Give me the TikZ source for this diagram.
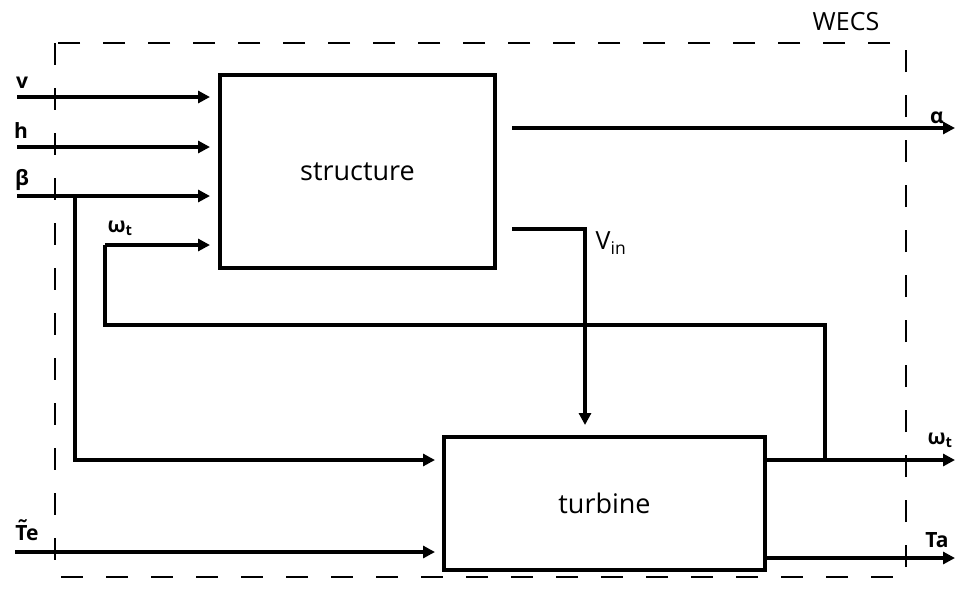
\documentclass[tikz,border=0pt]{standalone}
\usepackage{fontspec}
\setmainfont{Open Sans}
\usetikzlibrary{arrows.meta}
\begin{document}
\begin{tikzpicture}[x=1pt,y=-1pt,
  blockbox/.style={draw,line width=4.5pt,inner sep=0pt,font=\fontsize{27}{32}\selectfont},
  sig/.style={line width=4pt,-{Triangle[length=12pt,width=12pt]}},
  wire/.style={line width=4pt},
  lbl/.style={inner sep=0pt,font=\bfseries\fontsize{21}{25}\selectfont},
  frame/.style={line width=1.4pt,dash pattern=on 22pt off 23pt}]
\useasboundingbox (0,0) rectangle (955,606);
\draw[frame] (55,43) rectangle (906,577);
\node[inner sep=0pt,font=\fontsize{25}{30}\selectfont] (wecs) at (846,22) {WECS};
\node[blockbox,minimum width=275pt,minimum height=193pt] (structure) at (357.5,171.5) {structure};
\node[blockbox,minimum width=321pt,minimum height=133pt] (turbine) at (604.5,503.5) {turbine};
% inputs
\coordinate (vin) at (17,97);
\coordinate (hin) at (17,147);
\coordinate (bin) at (17,196);
\coordinate (win) at (105,245);
\coordinate (tein) at (15,552);
\coordinate (bsplit) at (75,196);
\coordinate (wsplit) at (825,460);
\coordinate (aout) at (955,128);
\coordinate (wout) at (955,460);
\coordinate (taout) at (955,558);
\coordinate (vcorner) at (585,229);
\draw[sig] (vin) -- (210,97) coordinate (vend);
\draw[sig] (hin) -- (210,147) coordinate (hend);
\draw[sig] (bin) -- (210,196) coordinate (bend);
\draw[sig] (win) -- (210,245) coordinate (wend);
\draw[sig] (bsplit) |- (435,460) coordinate (bturb);
\draw[sig] (tein) -- (435,552) coordinate (teturb);
\draw[wire] (wsplit) |- (105,325) -- (win);
\draw[sig] (512,128) coordinate (astart) -- (aout);
\draw[sig] (512,229) coordinate (vstart) -- (vcorner) -- (585,425) coordinate (vturb);
\draw[sig] (turbine.east |- wout) -- (wout);
\draw[sig] (turbine.east |- taout) -- (taout);
% labels
\node[lbl] (lv) at (22,83) {v};
\node[lbl] (lh) at (21,131) {h};
\node[lbl] (lb) at (22,180) {β};
\node[lbl] (lw) at (120,228) {ω\textsubscript{t}};
\node[lbl] (la) at (937,118) {α};
\node[lbl] (lw2) at (940,440) {ω\textsubscript{t}};
\node[lbl] (lta) at (937,540) {Ta};
\node[lbl] (lte) at (27,530) {\rlap{\raisebox{0.22em}{\kern0.05em ˜}}Te};
\node[inner sep=0pt,font=\fontsize{25}{30}\selectfont] (lvin) at (611,243) {V\textsubscript{in}};
\end{tikzpicture}
\end{document}
